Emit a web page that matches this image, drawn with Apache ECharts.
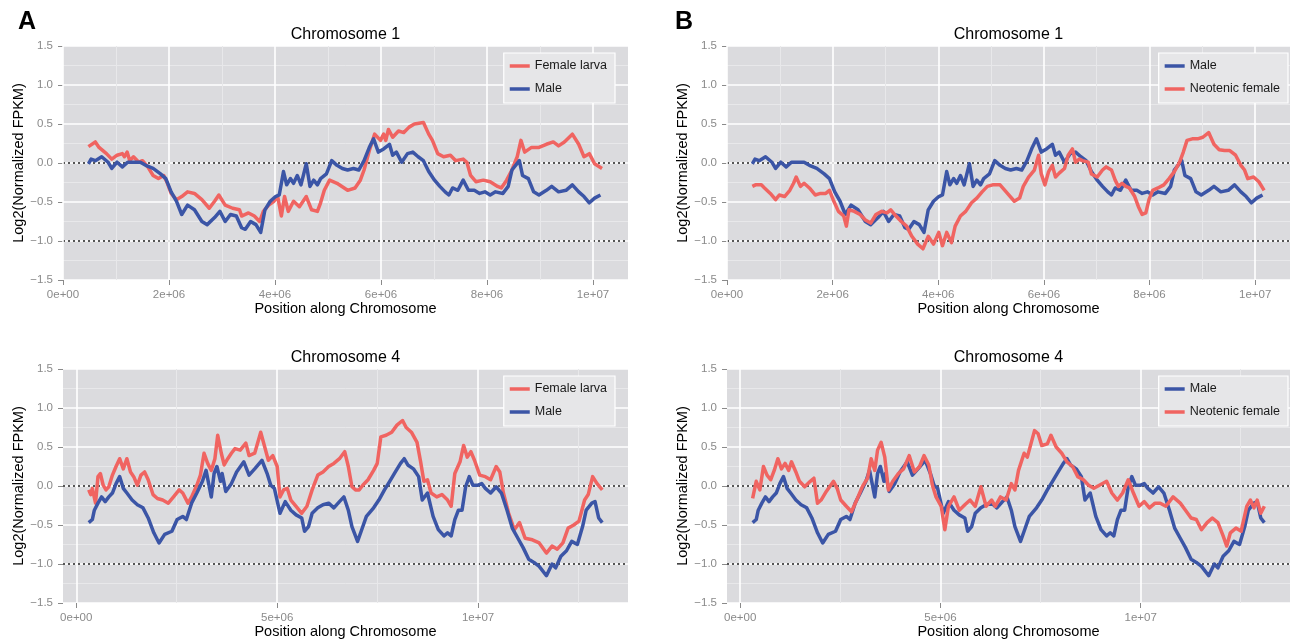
<!DOCTYPE html>
<html><head><meta charset="utf-8">
<script src="https://cdn.jsdelivr.net/npm/echarts@6/dist/echarts.min.js"></script>
<style>html,body{margin:0;padding:0;background:#fff}#c{width:1293px;height:643px}</style>
</head><body><div id="c"></div>
<script>
// ---- data: [position (Mb), log2 normalized FPKM] ----
const chr1_female = [[0.48,0.21],[0.61,0.27],[0.68,0.20],[0.82,0.12],[0.92,0.05],[1.02,0.10],[1.12,0.12],[1.16,0.08],[1.21,0.14],[1.26,0.03],[1.33,0.08],[1.43,0.01],[1.50,0.03],[1.60,-0.05],[1.70,-0.16],[1.80,-0.20],[1.90,-0.16],[1.97,-0.26],[2.04,-0.39],[2.14,-0.47],[2.24,-0.43],[2.35,-0.37],[2.48,-0.39],[2.62,-0.47],[2.76,-0.58],[2.86,-0.49],[2.94,-0.41],[3.06,-0.54],[3.20,-0.58],[3.33,-0.60],[3.37,-0.68],[3.50,-0.64],[3.61,-0.68],[3.71,-0.75],[3.78,-0.62],[3.88,-0.54],[3.98,-0.49],[4.05,-0.43],[4.12,-0.68],[4.18,-0.43],[4.25,-0.62],[4.35,-0.49],[4.46,-0.56],[4.59,-0.43],[4.69,-0.60],[4.80,-0.62],[4.86,-0.51],[4.93,-0.35],[5.03,-0.22],[5.17,-0.26],[5.37,-0.35],[5.51,-0.32],[5.61,-0.22],[5.68,-0.09],[5.78,0.16],[5.88,0.37],[5.99,0.29],[6.05,0.37],[6.09,0.29],[6.14,0.43],[6.22,0.33],[6.33,0.41],[6.43,0.39],[6.53,0.46],[6.63,0.50],[6.80,0.52],[6.90,0.37],[6.97,0.29],[7.07,0.12],[7.18,0.08],[7.31,0.10],[7.41,0.03],[7.55,0.05],[7.62,0.01],[7.69,-0.16],[7.79,-0.24],[7.93,-0.22],[8.06,-0.24],[8.20,-0.30],[8.27,-0.32],[8.37,-0.22],[8.47,-0.09],[8.57,0.08],[8.64,0.29],[8.71,0.14],[8.84,0.20],[8.98,0.20],[9.12,0.24],[9.25,0.27],[9.35,0.22],[9.46,0.27],[9.61,0.37],[9.73,0.24],[9.83,0.08],[9.93,0.12],[10.03,-0.01],[10.17,-0.07]];
const chr1_male = [[0.48,-0.01],[0.53,0.05],[0.61,0.03],[0.73,0.08],[0.85,0.01],[0.92,-0.07],[1.02,0.01],[1.12,-0.05],[1.22,0.01],[1.36,0.01],[1.46,0.01],[1.56,-0.03],[1.70,-0.07],[1.84,-0.14],[1.94,-0.20],[2.04,-0.37],[2.14,-0.49],[2.24,-0.66],[2.35,-0.54],[2.48,-0.60],[2.62,-0.75],[2.72,-0.79],[2.86,-0.70],[2.96,-0.62],[3.06,-0.75],[3.16,-0.66],[3.27,-0.68],[3.37,-0.83],[3.44,-0.85],[3.54,-0.75],[3.64,-0.79],[3.73,-0.89],[3.81,-0.60],[3.91,-0.49],[4.01,-0.43],[4.08,-0.41],[4.16,-0.11],[4.22,-0.28],[4.29,-0.20],[4.35,-0.26],[4.42,-0.16],[4.49,-0.28],[4.59,-0.01],[4.66,-0.30],[4.73,-0.22],[4.80,-0.28],[4.86,-0.20],[4.97,-0.14],[5.07,0.03],[5.17,-0.03],[5.27,-0.07],[5.37,-0.09],[5.48,-0.07],[5.58,-0.09],[5.68,0.03],[5.78,0.20],[5.86,0.31],[5.95,0.14],[6.05,0.18],[6.16,0.24],[6.22,0.10],[6.29,0.14],[6.39,0.01],[6.50,0.12],[6.60,0.14],[6.70,0.08],[6.80,0.03],[6.90,-0.11],[7.01,-0.22],[7.11,-0.30],[7.21,-0.37],[7.28,-0.41],[7.35,-0.32],[7.45,-0.35],[7.55,-0.22],[7.65,-0.35],[7.76,-0.35],[7.86,-0.39],[7.96,-0.37],[8.06,-0.41],[8.16,-0.37],[8.30,-0.39],[8.40,-0.30],[8.47,-0.09],[8.61,0.03],[8.67,-0.16],[8.78,-0.20],[8.88,-0.37],[8.98,-0.41],[9.12,-0.35],[9.22,-0.30],[9.35,-0.37],[9.49,-0.35],[9.61,-0.28],[9.73,-0.37],[9.83,-0.43],[9.93,-0.51],[10.03,-0.45],[10.14,-0.41]];
const chr1_neo = [[0.48,-0.30],[0.54,-0.28],[0.65,-0.28],[0.71,-0.32],[0.82,-0.39],[0.92,-0.47],[0.99,-0.41],[1.09,-0.43],[1.19,-0.35],[1.26,-0.26],[1.31,-0.18],[1.39,-0.30],[1.46,-0.26],[1.56,-0.32],[1.67,-0.41],[1.77,-0.39],[1.87,-0.39],[1.94,-0.35],[2.01,-0.47],[2.11,-0.62],[2.21,-0.68],[2.26,-0.81],[2.31,-0.60],[2.41,-0.62],[2.52,-0.66],[2.62,-0.73],[2.72,-0.77],[2.82,-0.66],[2.93,-0.62],[3.03,-0.64],[3.10,-0.60],[3.20,-0.68],[3.30,-0.75],[3.40,-0.81],[3.50,-0.94],[3.61,-1.04],[3.71,-1.10],[3.81,-0.94],[3.91,-1.04],[4.01,-0.89],[4.08,-1.06],[4.16,-0.89],[4.25,-1.02],[4.32,-0.81],[4.42,-0.68],[4.52,-0.62],[4.63,-0.51],[4.73,-0.45],[4.83,-0.37],[4.93,-0.30],[5.03,-0.28],[5.17,-0.28],[5.31,-0.39],[5.44,-0.49],[5.54,-0.45],[5.61,-0.30],[5.71,-0.18],[5.82,-0.09],[5.90,0.10],[5.95,-0.14],[6.02,-0.28],[6.09,-0.11],[6.16,-0.03],[6.22,-0.18],[6.29,-0.13],[6.39,-0.07],[6.46,0.10],[6.54,0.18],[6.60,0.01],[6.67,0.05],[6.73,0.03],[6.84,0.01],[6.90,-0.14],[7.01,-0.18],[7.11,-0.09],[7.18,-0.05],[7.28,-0.09],[7.35,-0.22],[7.41,-0.30],[7.48,-0.26],[7.55,-0.30],[7.62,-0.32],[7.72,-0.43],[7.79,-0.56],[7.86,-0.66],[7.93,-0.64],[7.99,-0.47],[8.06,-0.35],[8.16,-0.32],[8.27,-0.28],[8.37,-0.20],[8.47,-0.11],[8.57,0.01],[8.64,0.14],[8.71,0.29],[8.81,0.31],[8.91,0.31],[9.01,0.33],[9.12,0.39],[9.22,0.24],[9.32,0.17],[9.42,0.16],[9.52,0.16],[9.63,0.10],[9.73,-0.03],[9.80,-0.09],[9.86,-0.20],[9.97,-0.18],[10.07,-0.24],[10.17,-0.35]];
const chr4_female = [[0.31,-0.05],[0.36,-0.11],[0.40,-0.03],[0.48,-0.22],[0.54,0.12],[0.60,0.16],[0.67,0.01],[0.74,-0.05],[0.81,-0.01],[0.90,0.14],[0.99,0.25],[1.08,0.35],[1.17,0.22],[1.26,0.35],[1.35,0.18],[1.43,0.12],[1.52,0.01],[1.61,0.14],[1.70,0.18],[1.79,0.08],[1.91,-0.11],[2.02,-0.16],[2.15,-0.18],[2.29,-0.22],[2.42,-0.14],[2.56,-0.05],[2.65,-0.09],[2.78,-0.22],[2.87,-0.14],[3.00,0.01],[3.09,0.14],[3.18,0.42],[3.27,0.29],[3.36,0.20],[3.45,0.35],[3.52,0.65],[3.61,0.42],[3.68,0.27],[3.77,0.35],[3.86,0.42],[3.95,0.48],[4.08,0.46],[4.22,0.55],[4.30,0.39],[4.44,0.42],[4.59,0.69],[4.68,0.52],[4.78,0.33],[4.89,0.39],[5.00,0.25],[5.07,-0.14],[5.16,-0.05],[5.25,-0.03],[5.34,-0.18],[5.47,-0.26],[5.61,-0.35],[5.74,-0.26],[5.87,-0.05],[6.01,0.14],[6.14,0.18],[6.28,0.25],[6.41,0.29],[6.55,0.35],[6.68,0.44],[6.77,0.25],[6.86,-0.01],[6.95,-0.05],[7.04,-0.05],[7.13,0.01],[7.26,0.08],[7.40,0.20],[7.49,0.29],[7.58,0.63],[7.71,0.65],[7.85,0.69],[7.98,0.78],[8.12,0.84],[8.21,0.75],[8.34,0.69],[8.48,0.56],[8.57,0.31],[8.65,0.06],[8.74,0.08],[8.83,-0.09],[8.97,-0.14],[9.10,-0.11],[9.24,-0.18],[9.33,-0.26],[9.42,0.16],[9.55,0.31],[9.64,0.52],[9.73,0.37],[9.82,0.44],[9.91,0.33],[10.04,0.14],[10.18,0.12],[10.31,0.08],[10.45,0.25],[10.54,0.18],[10.63,-0.09],[10.76,-0.35],[10.90,-0.56],[11.03,-0.47],[11.17,-0.67],[11.35,-0.69],[11.52,-0.73],[11.70,-0.86],[11.84,-0.77],[11.97,-0.81],[12.11,-0.73],[12.24,-0.54],[12.38,-0.50],[12.51,-0.45],[12.65,-0.18],[12.74,-0.11],[12.85,0.12],[12.96,0.03],[13.09,-0.05]];
const chr4_male = [[0.31,-0.47],[0.40,-0.43],[0.45,-0.31],[0.54,-0.22],[0.63,-0.14],[0.72,-0.20],[0.81,-0.14],[0.90,-0.09],[0.99,0.03],[1.08,0.12],[1.17,-0.03],[1.26,-0.09],[1.39,-0.18],[1.52,-0.24],[1.66,-0.28],[1.79,-0.41],[1.93,-0.60],[2.06,-0.73],[2.20,-0.62],[2.38,-0.58],[2.51,-0.43],[2.65,-0.39],[2.74,-0.43],[2.87,-0.22],[3.00,-0.09],[3.14,0.06],[3.23,0.20],[3.36,-0.14],[3.43,0.16],[3.50,0.25],[3.59,0.06],[3.63,0.16],[3.72,-0.07],[3.86,0.03],[3.99,0.18],[4.17,0.31],[4.30,0.14],[4.44,0.22],[4.62,0.33],[4.75,0.16],[4.84,0.01],[4.93,-0.03],[5.07,-0.35],[5.20,-0.20],[5.34,-0.31],[5.47,-0.37],[5.61,-0.41],[5.68,-0.58],[5.78,-0.52],[5.87,-0.35],[6.01,-0.28],[6.14,-0.24],[6.28,-0.22],[6.41,-0.28],[6.55,-0.20],[6.66,-0.14],[6.77,-0.31],[6.86,-0.52],[7.00,-0.71],[7.09,-0.58],[7.22,-0.39],[7.40,-0.28],[7.53,-0.18],[7.67,-0.05],[7.80,0.06],[7.94,0.18],[8.07,0.29],[8.16,0.35],[8.25,0.27],[8.39,0.22],[8.52,0.12],[8.61,-0.18],[8.74,-0.09],[8.88,-0.39],[9.01,-0.56],[9.15,-0.64],[9.24,-0.60],[9.33,-0.64],[9.42,-0.43],[9.51,-0.31],[9.60,-0.31],[9.69,-0.01],[9.78,0.12],[9.87,0.01],[10.00,0.01],[10.09,0.03],[10.18,-0.03],[10.31,-0.09],[10.45,-0.01],[10.58,-0.09],[10.72,-0.31],[10.85,-0.54],[10.99,-0.67],[11.12,-0.79],[11.26,-0.94],[11.39,-0.98],[11.52,-1.03],[11.70,-1.15],[11.84,-1.00],[11.93,-1.05],[12.06,-0.90],[12.20,-0.83],[12.33,-0.71],[12.47,-0.75],[12.60,-0.52],[12.69,-0.31],[12.83,-0.22],[12.91,-0.20],[13.00,-0.41],[13.09,-0.47]];
const chr4_neo = [[0.31,-0.16],[0.40,0.06],[0.49,-0.05],[0.58,0.25],[0.67,0.14],[0.76,0.08],[0.85,0.20],[0.94,0.35],[1.03,0.22],[1.12,0.29],[1.21,0.20],[1.28,0.31],[1.39,0.18],[1.48,0.06],[1.61,-0.01],[1.75,0.06],[1.84,0.10],[1.93,-0.22],[2.02,-0.18],[2.15,-0.07],[2.33,0.06],[2.42,-0.03],[2.51,-0.18],[2.65,-0.26],[2.78,-0.33],[2.91,-0.18],[3.05,-0.01],[3.18,0.10],[3.27,0.35],[3.36,0.20],[3.43,0.46],[3.52,0.56],[3.61,0.37],[3.70,-0.05],[3.81,0.06],[3.95,0.16],[4.08,0.22],[4.22,0.39],[4.35,0.18],[4.48,0.25],[4.59,0.39],[4.71,0.27],[4.80,0.01],[4.89,-0.14],[5.02,-0.26],[5.11,-0.56],[5.20,-0.26],[5.34,-0.14],[5.47,-0.31],[5.61,-0.24],[5.74,-0.18],[5.87,-0.26],[6.01,-0.01],[6.14,-0.26],[6.28,-0.18],[6.37,-0.26],[6.50,-0.14],[6.64,-0.18],[6.77,0.03],[6.86,-0.05],[6.95,0.20],[7.09,0.42],[7.17,0.37],[7.26,0.54],[7.35,0.71],[7.44,0.67],[7.53,0.52],[7.67,0.54],[7.76,0.65],[7.89,0.50],[8.03,0.42],[8.16,0.31],[8.30,0.25],[8.43,0.12],[8.57,0.08],[8.70,0.01],[8.83,-0.03],[8.97,0.01],[9.15,0.06],[9.28,-0.09],[9.42,-0.18],[9.55,-0.09],[9.69,0.08],[9.82,-0.09],[9.96,-0.26],[10.09,-0.20],[10.22,-0.28],[10.36,-0.22],[10.49,-0.22],[10.63,-0.26],[10.81,-0.14],[10.99,-0.22],[11.12,-0.31],[11.26,-0.41],[11.39,-0.43],[11.52,-0.56],[11.66,-0.47],[11.79,-0.41],[11.93,-0.47],[12.06,-0.64],[12.15,-0.77],[12.24,-0.60],[12.38,-0.54],[12.51,-0.58],[12.65,-0.26],[12.74,-0.18],[12.83,-0.28],[12.91,-0.18],[13.00,-0.35],[13.09,-0.26]];

// axis ranges and ticks (bp)
const chr1Range = [0, 10.66e6];
const chr4Range = [-0.33e6, 13.73e6];
const chr1Ticks = [0, 2e6, 4e6, 6e6, 8e6, 1e7];
const chr1Minor = [1e6, 3e6, 5e6, 7e6, 9e6];
const chr4Ticks = [0, 5e6, 1e7];
const chr4Minor = [2.5e6, 7.5e6, 12.5e6];
const yRefLines = [0, -1];

const FONT = '"Liberation Sans", Arial, Helvetica, sans-serif';
const RED = '#f06461', BLUE = '#3b55a6';
const GRAY = '#8a8a8a';

function sci(v) {
  if (v === 0) return '0e+00';
  const e = Math.floor(Math.log10(Math.abs(v)) + 1e-9);
  const m = +(v / Math.pow(10, e)).toFixed(2);
  return m + 'e' + (e < 0 ? '-' : '+') + String(Math.abs(e)).padStart(2, '0');
}
function yFmt(v) { return (v < 0 ? '\u2212' : '') + Math.abs(v).toFixed(1); }
const toBp = arr => arr.map(p => [p[0] * 1e6, p[1]]);

const grids = [
  {left: 63, top: 46, width: 565, height: 234},
  {left: 727, top: 46, width: 563, height: 234},
  {left: 63, top: 369, width: 565, height: 234},
  {left: 727, top: 369, width: 563, height: 234}
];
const panels = [
  {range: chr1Range, ticks: chr1Ticks, minor: chr1Minor, title: 'Chromosome 1', legendRight: 678,
   series: [['Female larva', chr1_female, RED], ['Male', chr1_male, BLUE]]},
  {range: chr1Range, ticks: chr1Ticks, minor: chr1Minor, title: 'Chromosome 1', legendRight: 5,
   series: [['Male', chr1_male, BLUE], ['Neotenic female', chr1_neo, RED]]},
  {range: chr4Range, ticks: chr4Ticks, minor: chr4Minor, title: 'Chromosome 4', legendRight: 678,
   series: [['Female larva', chr4_female, RED], ['Male', chr4_male, BLUE]]},
  {range: chr4Range, ticks: chr4Ticks, minor: chr4Minor, title: 'Chromosome 4', legendRight: 5,
   series: [['Male', chr4_male, BLUE], ['Neotenic female', chr4_neo, RED]]}
];

const xAxes = [], yAxes = [], series = [], legends = [], graphics = [];
panels.forEach((p, i) => {
  const g = grids[i];
  xAxes.push({
    gridIndex: i, type: 'value', min: p.range[0], max: p.range[1], z: 2,
    name: 'Position along Chromosome', nameLocation: 'middle', nameGap: 21,
    nameTextStyle: {fontSize: 14.5, color: '#000', fontFamily: FONT},
    axisLine: {show: false, onZero: false},
    axisTick: {show: true, length: 5, customValues: p.ticks, lineStyle: {color: GRAY, width: 1}},
    axisLabel: {customValues: p.ticks, margin: 9, fontSize: 11.5, color: GRAY, fontFamily: FONT, formatter: sci},
    splitLine: {show: true, lineStyle: {color: '#ffffff', width: 1.6}}
  });
  yAxes.push({
    gridIndex: i, type: 'value', min: -1.5, max: 1.5, interval: 0.5,
    name: 'Log2(Normalized FPKM)', nameLocation: 'middle', nameGap: 37,
    nameTextStyle: {fontSize: 14.5, color: '#000', fontFamily: FONT},
    axisLine: {show: false, onZero: false},
    axisTick: {show: true, length: 5, lineStyle: {color: GRAY, width: 1}},
    axisLabel: {margin: 10, fontSize: 11.5, color: GRAY, fontFamily: FONT, formatter: yFmt},
    splitLine: {show: true, lineStyle: {color: '#ffffff', width: 1.6}},
    minorTick: {show: false, splitNumber: 2},
    minorSplitLine: {show: true, lineStyle: {color: '#e8e8ea', width: 1}}
  });
  p.series.forEach((s, k) => {
    const ser = {
      type: 'line', name: s[0], xAxisIndex: i, yAxisIndex: i,
      data: toBp(s[1]), showSymbol: false, symbol: 'none', smooth: false,
      lineStyle: {color: s[2], width: 3.5, join: 'round'}, itemStyle: {color: s[2]},
      z: 3, animation: false
    };
    if (k === 0) {
      ser.markLine = {
        silent: true, symbol: 'none', z: 1, animation: false,
        label: {show: false},
        lineStyle: {type: [2, 3], color: '#222', width: 1.6},
        data: yRefLines.map(v => ({yAxis: v}))
      };
    }
    series.push(ser);
  });
  legends.push({
    orient: 'vertical', right: p.legendRight, top: g.top + 7,
    data: p.series.map(s => s[0]),
    icon: 'rect', itemWidth: 20, itemHeight: 3.5, itemGap: 9,
    padding: [6, 8, 7, 6],
    backgroundColor: '#e6e6e8', borderColor: '#ffffff', borderWidth: 1.2,
    textStyle: {fontSize: 12.5, color: '#1a1a1a', fontFamily: FONT, lineHeight: 14},
    selectedMode: false
  });
  graphics.push({
    type: 'text', x: g.left + g.width / 2, y: g.top - 11,
    style: {text: p.title, fill: '#000', font: '16px ' + FONT, textAlign: 'center', textVerticalAlign: 'middle'}
  });
});
// minor vertical grid lines (same scale on each grid)
panels.forEach((p, i) => {
  xAxes.push({
    gridIndex: i, type: 'value', min: p.range[0], max: p.range[1], z: 1,
    axisLine: {show: false, onZero: false},
    axisTick: {show: false, customValues: p.minor},
    axisLabel: {show: false, customValues: p.minor},
    splitLine: {show: true, lineStyle: {color: '#e8e8ea', width: 1}}
  });
});
graphics.push({type: 'text', x: 18, y: 22, style: {text: 'A', fill: '#000', font: 'bold 25px ' + FONT, textVerticalAlign: 'middle'}});
graphics.push({type: 'text', x: 675, y: 22, style: {text: 'B', fill: '#000', font: 'bold 25px ' + FONT, textVerticalAlign: 'middle'}});

const chart = echarts.init(document.getElementById('c'), null, {renderer: 'canvas'});
chart.setOption({
  animation: false,
  backgroundColor: '#ffffff',
  grid: grids.map(g => Object.assign({show: true, backgroundColor: '#dbdbde', borderWidth: 0, containLabel: false}, g)),
  xAxis: xAxes,
  yAxis: yAxes,
  legend: legends,
  tooltip: {show: false},
  series: series,
  graphic: graphics
});
</script></body></html>
